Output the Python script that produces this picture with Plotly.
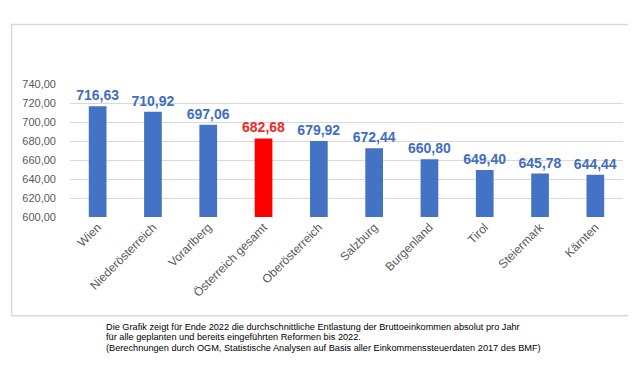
import plotly.graph_objects as go

categories = ["Wien", "Niederösterreich", "Vorarlberg", "Österreich gesamt", "Oberösterreich",
              "Salzburg", "Burgenland", "Tirol", "Steiermark", "Kärnten"]
values = [716.63, 710.92, 697.06, 682.68, 679.92, 672.44, 660.80, 649.40, 645.78, 644.44]
highlight = "Österreich gesamt"
tick_vals = [600, 620, 640, 660, 680, 700, 720, 740]
tick_text = ["600,00", "620,00", "640,00", "660,00", "680,00", "700,00", "720,00", "740,00"]
footnote = [
    "Die Grafik zeigt für Ende 2022 die durchschnittliche Entlastung der Bruttoeinkommen absolut pro Jahr",
    "für alle geplanten und bereits eingeführten Reformen bis 2022.",
    "(Berechnungen durch OGM, Statistische Analysen auf Basis aller Einkommenssteuerdaten 2017 des BMF)",
]

BLUE = "#4472C4"
RED = "#FF0000"
bar_colors = [RED if c == highlight else BLUE for c in categories]
text_colors = ["#EE2A24" if c == highlight else "#3F6EC0" for c in categories]
labels = [f"{v:.2f}".replace(".", ",") for v in values]

W, H = 640, 365
L, R, T, B = 70, 17, 84.3, 148.3
pw, ph = W - L - R, H - T - B

def px(x):
    return (x - L) / pw

def py(y):
    return 1 - (y - T) / ph

fig = go.Figure(go.Bar(
    x=categories, y=values, marker_color=bar_colors, marker_line_width=0,
    text=labels, textposition="outside", cliponaxis=False, constraintext="none",
    textfont=dict(family="Liberation Sans, Arial", size=14, color=text_colors, weight="bold"),
    hoverinfo="skip",
))

frame_col = "#D9D9D9"
shapes = [
    dict(type="line", xref="paper", yref="paper", x0=px(11), x1=px(628), y0=py(25), y1=py(25),
         line=dict(color=frame_col, width=1.5)),
    dict(type="line", xref="paper", yref="paper", x0=px(11.7), x1=px(11.7), y0=py(25), y1=py(315),
         line=dict(color=frame_col, width=1.5)),
    dict(type="line", xref="paper", yref="paper", x0=px(11), x1=px(628), y0=py(315), y1=py(315),
         line=dict(color=frame_col, width=1.5)),
]

annotations = []
for i, line in enumerate(footnote):
    annotations.append(dict(
        text=line, xref="paper", yref="paper", x=px(104), y=py(326 + i * 10.4),
        xanchor="left", yanchor="middle", showarrow=False,
        font=dict(family="Liberation Sans, Arial", size=9.2, color="#000000"),
    ))

fig.update_layout(
    width=W, height=H,
    margin=dict(l=L, r=R, t=T, b=B, pad=0),
    paper_bgcolor="white", plot_bgcolor="white",
    bargap=0.68, showlegend=False,
    font=dict(family="Liberation Sans, Arial", color="#595959"),
    xaxis=dict(tickangle=-45, tickfont=dict(size=12, color="#595959"), showgrid=False,
               showline=False, ticks="", automargin=False),
    yaxis=dict(range=[600, 740], tickvals=tick_vals, ticktext=tick_text,
               tickfont=dict(size=11, color="#595959"), showgrid=True, gridcolor="#D9D9D9",
               gridwidth=1, zeroline=False, showline=False, ticks="", ticklabelstandoff=13,
               automargin=False),
    shapes=shapes, annotations=annotations,
)

fig.write_html("out.html", config={"displayModeBar": False, "staticPlot": True},
               post_script="document.body.style.margin='0px';")
